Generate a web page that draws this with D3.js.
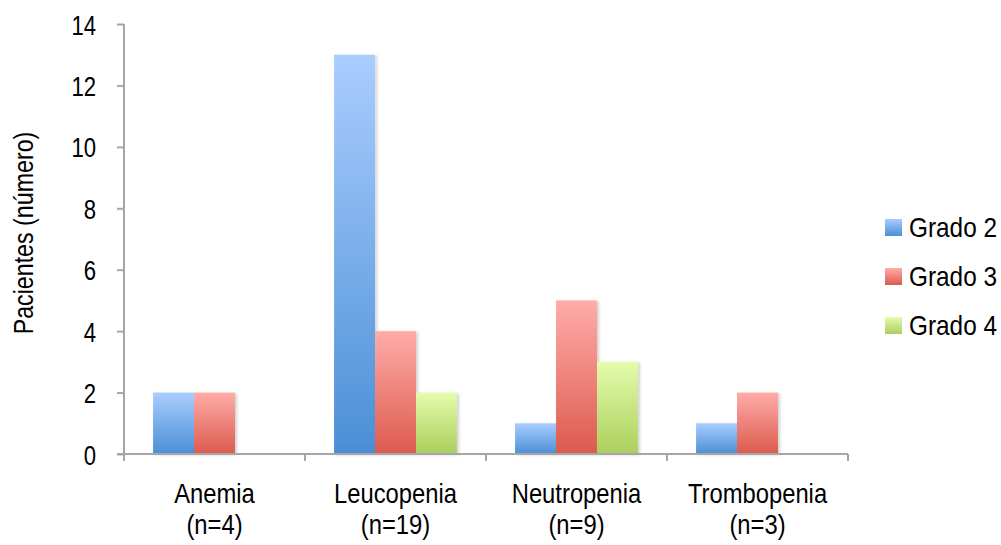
<!DOCTYPE html>
<html>
<head>
<meta charset="utf-8">
<script src="https://cdn.jsdelivr.net/npm/d3@7"></script>
<style>
  html, body { margin: 0; padding: 0; background: #fff; }
  svg { display: block; }
  text { font-family: "Liberation Sans", Arial, sans-serif; fill: #000; font-size: 28px; }
</style>
</head>
<body>
<svg id="chart" width="1001" height="545"></svg>
<script>
// Hematologic toxicity by grade
const categories = ["Anemia", "Leucopenia", "Neutropenia", "Trombopenia"];
const categoryCounts = ["(n=4)", "(n=19)", "(n=9)", "(n=3)"];
const seriesNames = ["Grado 2", "Grado 3", "Grado 4"];
const grado2 = [2, 13, 1, 1];
const grado3 = [2, 4, 5, 2];
const grado4 = [0, 2, 3, 0];
const yTicks = [0, 2, 4, 6, 8, 10, 12, 14];
const yTitle = "Pacientes (número)";

const seriesValues = [grado2, grado3, grado4];
const gradients = [
  ["#aacdfe", "#4a8fd6"],
  ["#ffaca9", "#dc5a4d"],
  ["#e4fcac", "#abcf5c"]
];

const svg = d3.select("#chart");
const margin = { left: 124, right: 153, top: 24, bottom: 91 };
const W = 1001, H = 545;
const x0 = d3.scaleBand().domain(categories).range([margin.left, W - margin.right]).paddingInner(0).paddingOuter(0);
const x1 = d3.scaleBand().domain(seriesNames).range([0, x0.bandwidth()]).paddingInner(0).paddingOuter(0.71);
const y = d3.scaleLinear().domain([0, 14]).range([H - margin.bottom, margin.top]);

// condensed text: placed at (x, y) and squeezed horizontally
function narrowText(sel, x, y, sx, anchor) {
  return sel.append("text")
    .attr("transform", `translate(${x},${y}) scale(${sx},1)`)
    .attr("text-anchor", anchor || "start");
}

const defs = svg.append("defs");
gradients.forEach((g, i) => {
  const lg = defs.append("linearGradient").attr("id", "grad" + i)
    .attr("x1", 0).attr("y1", 0).attr("x2", 0).attr("y2", 1);
  lg.append("stop").attr("offset", "0%").attr("stop-color", g[0]);
  lg.append("stop").attr("offset", "100%").attr("stop-color", g[1]);
});
const shadow = defs.append("filter").attr("id", "shadow")
  .attr("x", "-10%").attr("y", "-10%").attr("width", "130%").attr("height", "130%");
shadow.append("feDropShadow").attr("dx", 2).attr("dy", 1).attr("stdDeviation", 1.5)
  .attr("flood-color", "#000").attr("flood-opacity", 0.18);

// bars
const groups = svg.append("g").selectAll("g").data(categories).join("g")
  .attr("transform", d => `translate(${x0(d)},0)`);
groups.selectAll("rect")
  .data((c, ci) => seriesNames.map((s, si) => ({ s, si, v: seriesValues[si][ci] })).filter(d => d.v > 0))
  .join("rect")
  .attr("x", d => x1(d.s))
  .attr("width", x1.bandwidth())
  .attr("y", d => y(d.v))
  .attr("height", d => y(0) - y(d.v))
  .attr("fill", d => `url(#grad${d.si})`)
  .attr("filter", "url(#shadow)");

// y axis
const tickSx = 0.79;
const yAxis = svg.append("g").attr("transform", `translate(${margin.left},0)`)
  .call(d3.axisLeft(y).tickValues(yTicks).tickSize(7).tickPadding(0).tickFormat(d3.format("d")));
yAxis.select(".domain").attr("stroke", "#a6a6a6").attr("stroke-width", 2)
  .attr("d", `M0,${y(14)}V${y(0) + 7}`);
yAxis.selectAll(".tick line").attr("stroke", "#a6a6a6").attr("stroke-width", 2);
yAxis.selectAll(".tick text")
  .attr("font-size", null).style("font-size", "28px").style("font-family", null)
  .attr("x", -28 / tickSx).attr("dy", "0.36em")
  .attr("transform", `scale(${tickSx},1)`);
yAxis.attr("font-family", null).attr("font-size", null);

// x axis
const xAxis = svg.append("g").attr("transform", `translate(0,${y(0)})`);
xAxis.append("line").attr("x1", margin.left - 7).attr("x2", W - margin.right)
  .attr("y1", 0).attr("y2", 0).attr("stroke", "#a6a6a6").attr("stroke-width", 2);
const bounds = categories.map(c => x0(c)).concat([x0(categories[categories.length - 1]) + x0.bandwidth()]);
xAxis.selectAll("line.tk").data(bounds).join("line").attr("class", "tk")
  .attr("x1", d => d).attr("x2", d => d).attr("y1", 0).attr("y2", 7)
  .attr("stroke", "#a6a6a6").attr("stroke-width", 2);
categories.forEach((c, i) => {
  const cx = x0(c) + x0.bandwidth() / 2;
  narrowText(xAxis, cx, 49, 0.85, "middle").text(c);
  narrowText(xAxis, cx, 80, 0.85, "middle").text(categoryCounts[i]);
});

// y title
svg.append("text")
  .attr("transform", `translate(33,${(y(0) + y(14)) / 2 - 6}) rotate(-90) scale(0.83,1)`)
  .attr("text-anchor", "middle").text(yTitle);

// legend
const legend = svg.append("g").attr("transform", "translate(885,219)");
const items = legend.selectAll("g").data(seriesNames).join("g")
  .attr("transform", (d, i) => `translate(0,${i * 49})`);
items.append("rect").attr("width", 17).attr("height", 17)
  .attr("fill", (d, i) => `url(#grad${i})`);
items.append("text").attr("transform", "translate(24,18) scale(0.87,1)").text(d => d);
</script>
</body>
</html>
